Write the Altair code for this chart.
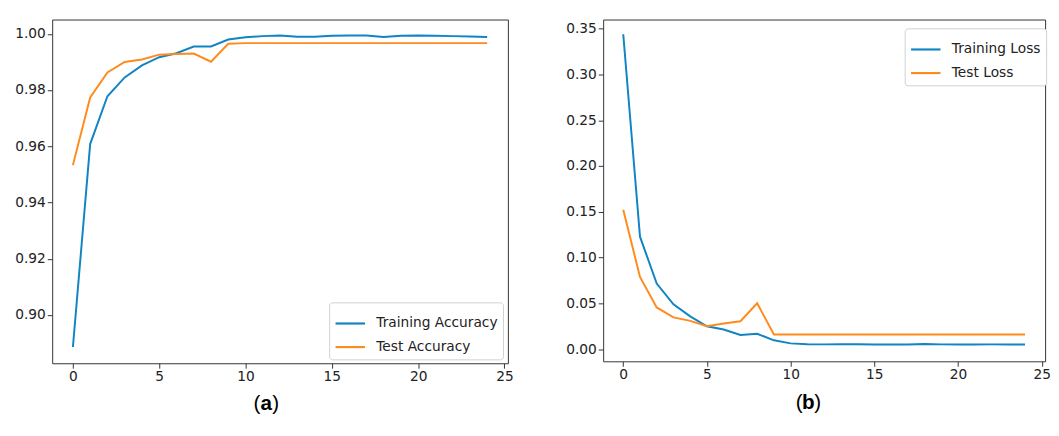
import altair as alt
import pandas as pd

epochs = list(range(25))
train_acc = [0.8886, 0.9608, 0.9778, 0.9845, 0.9888, 0.9917, 0.9931, 0.9955, 0.9955, 0.9980,
             0.9988, 0.9992, 0.9994, 0.9990, 0.9990, 0.9993, 0.9994, 0.9994, 0.9989, 0.9993,
             0.9994, 0.9993, 0.9992, 0.9991, 0.9989]
test_acc = [0.9533, 0.9774, 0.9863, 0.9900, 0.9909, 0.9926, 0.9928, 0.9930, 0.9901, 0.9965,
            0.9967, 0.9967, 0.9967, 0.9967, 0.9967, 0.9967, 0.9967, 0.9967, 0.9967, 0.9967,
            0.9967, 0.9967, 0.9967, 0.9967, 0.9967]
train_loss = [0.3439, 0.1229, 0.0717, 0.0491, 0.0359, 0.0251, 0.0215, 0.0155, 0.0169, 0.0097,
              0.0064, 0.0055, 0.0053, 0.0054, 0.0054, 0.0052, 0.0051, 0.0052, 0.0058, 0.0053,
              0.0052, 0.0052, 0.0053, 0.0052, 0.0051]
test_loss = [0.1523, 0.0789, 0.0456, 0.0348, 0.0310, 0.0251, 0.0280, 0.0305, 0.0502, 0.0161,
             0.0161, 0.0160, 0.0160, 0.0160, 0.0160, 0.0160, 0.0160, 0.0160, 0.0160, 0.0160,
             0.0160, 0.0160, 0.0160, 0.0160, 0.0160]

acc_names = ["Training Accuracy", "Test Accuracy"]
loss_names = ["Training Loss", "Test Loss"]
x_ticks = [0, 5, 10, 15, 20, 25]
acc_ticks = [0.90, 0.92, 0.94, 0.96, 0.98, 1.00]
loss_ticks = [0.00, 0.05, 0.10, 0.15, 0.20, 0.25, 0.30, 0.35]

BLUE = "#1184c4"
ORANGE = "#ff8b1c"


def panel(v1, v2, names, ydom, yticks, w, h, lx, ly, letter, tx, ty):
    df = pd.DataFrame({
        "epoch": epochs + epochs,
        "value": v1 + v2,
        "series": [names[0]] * len(v1) + [names[1]] * len(v2),
    })
    lines = alt.Chart(df).mark_line(strokeWidth=2).encode(
        x=alt.X("epoch:Q",
                scale=alt.Scale(domain=[-1.2, 25.2], nice=False, zero=False),
                axis=alt.Axis(values=x_ticks, title=None, format="d", grid=False)),
        y=alt.Y("value:Q",
                scale=alt.Scale(domain=ydom, nice=False, zero=False),
                axis=alt.Axis(values=yticks, title=None, format=".2f", grid=False)),
        color=alt.Color("series:N",
                        scale=alt.Scale(domain=names, range=[BLUE, ORANGE]),
                        legend=alt.Legend(orient="none", legendX=lx, legendY=ly, title=None,
                                          strokeColor="#d0d0d0", fillColor="white",
                                          padding=5, cornerRadius=3,
                                          symbolType="stroke", symbolStrokeWidth=2.2,
                                          symbolSize=900, labelFontSize=14,
                                          labelFont="DejaVu Sans", labelColor="#222",
                                          labelOffset=10, rowPadding=0)),
    )
    lab = pd.DataFrame({"t": [letter]})
    base = alt.Chart(lab)
    open_p = base.mark_text(text="(", fontSize=21, font="Liberation Sans", align="right",
                            baseline="middle", color="#000").encode(
        x=alt.value(tx - 6), y=alt.value(ty))
    letter_m = base.mark_text(fontSize=21, font="Liberation Sans", fontWeight="bold",
                              align="center", baseline="middle", color="#000").encode(
        x=alt.value(tx), y=alt.value(ty), text="t:N")
    close_p = base.mark_text(text=")", fontSize=21, font="Liberation Sans", align="left",
                             baseline="middle", color="#000").encode(
        x=alt.value(tx + 6), y=alt.value(ty))
    return alt.layer(lines, open_p, letter_m, close_p).properties(width=w, height=h)


left = panel(train_acc, test_acc, acc_names, [0.8828, 1.0051], acc_ticks, 464, 350,
             282, 288, "a", 218, 392)
right = panel(train_loss, test_loss, loss_names, [-0.0132, 0.36], loss_ticks, 450, 348,
              307, 9, "b", 209, 391)

chart = alt.hconcat(left, right, spacing=52).resolve_scale(
    color="independent", x="independent", y="independent"
).resolve_legend(color="independent").properties(
    padding={"left": 6, "top": 7, "right": 0, "bottom": 0},
    background="white"
).configure_view(
    stroke="#333", strokeWidth=1
).configure_axis(
    domain=False, grid=False, tickColor="#333", tickSize=5, labelFontSize=14,
    labelFont="DejaVu Sans", labelColor="#222", labelPadding=2
)

chart.save("out.html", embed_options={"renderer": "svg", "actions": False})
